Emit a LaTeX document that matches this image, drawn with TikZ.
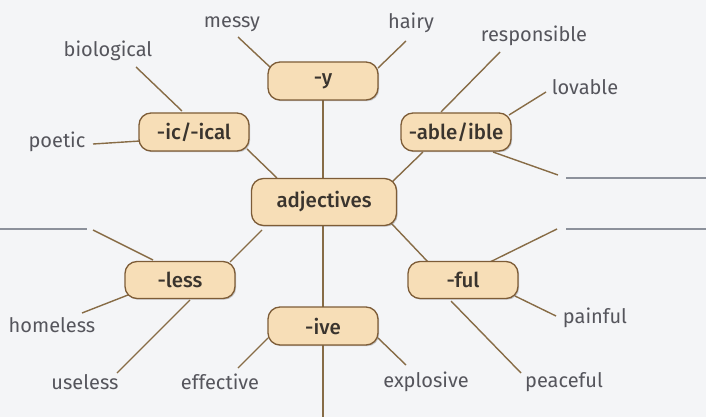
\documentclass[tikz,border=0pt]{standalone}
\usepackage{fontspec}
\setmainfont{Fira Sans}
\newfontfamily\boxfont{Fira Sans Medium}
\usetikzlibrary{calc,backgrounds,shadows}
\definecolor{boxfill}{RGB}{247,222,183}
\definecolor{boxline}{RGB}{125,92,55}
\definecolor{conn}{RGB}{135,108,70}
\definecolor{lbl}{RGB}{85,85,92}
\definecolor{boxtxt}{RGB}{58,52,46}
\definecolor{blank}{RGB}{140,145,155}
\definecolor{paper}{RGB}{244,245,247}
\begin{document}
\begin{tikzpicture}[x=1pt,y=-1pt,
  suffix/.style={draw=boxline, line width=1.3pt, fill=boxfill, rounded corners=12pt,
    minimum width=110pt, minimum height=38pt, inner sep=0pt,
    font=\boxfont\fontsize{20.5}{24}\selectfont, text=boxtxt,
    drop shadow={shadow xshift=1.2pt, shadow yshift=-1.2pt, opacity=0.35, fill=black!60}},
  word/.style={font=\fontsize{20}{24}\selectfont, text=lbl, inner sep=0pt},
  link/.style={draw=conn, line width=1.4pt},
  answer/.style={draw=blank, line width=1.2pt}]
\useasboundingbox (0,0) rectangle (706,417);

% boxes
\node[suffix, minimum width=145pt, minimum height=47pt] (adj) at (324,202) {adjectives};
\node[suffix] (y)    at (323,81)  {-y};
\node[suffix] (ic)   at (194,132) {-ic/-ical};
\node[suffix] (able) at (456,132) {-able/ible};
\node[suffix, minimum height=37pt] (less) at (180,280) {-less};
\node[suffix, minimum height=37pt] (ful)  at (463,280) {-ful};
\node[suffix] (ive)  at (323,326) {-ive};

% labels
\node[word] (messy)  at (232,24)  {messy};
\node[word] (hairy)  at (411,23)  {hairy};
\node[word] (bio)    at (108,51)  {biological};
\node[word] (resp)   at (534,36)  {responsible};
\node[word] (lov)    at (585,87)  {lovable};
\node[word] (poetic) at (57,142)  {poetic};
\node[word] (home)   at (52,325)  {homeless};
\node[word] (use)    at (85,382)  {useless};
\node[word] (eff)    at (220,382) {effective};
\node[word] (expl)   at (426,382) {explosive};
\node[word] (pain)   at (595,318) {painful};
\node[word] (peace)  at (564,382) {peaceful};

% free ends
\coordinate (messyE) at (238,37);
\coordinate (hairyE) at (406,41);
\coordinate (bioE)   at (136,67);
\coordinate (poetE)  at (93,144);
\coordinate (respE)  at (500,52);
\coordinate (lovE)   at (546,92);
\coordinate (ableE)  at (558,175);
\coordinate (ansA1)  at (566,178);
\coordinate (ansA2)  at (706,178);
\coordinate (lessE)  at (93,230);
\coordinate (ansL1)  at (0,229);
\coordinate (ansL2)  at (87,229);
\coordinate (homeE)  at (82,313);
\coordinate (useE)   at (117,373);
\coordinate (effE)   at (238,368);
\coordinate (explE)  at (406,365);
\coordinate (fulE)   at (557,229);
\coordinate (ansF1)  at (566,229);
\coordinate (ansF2)  at (706,229);
\coordinate (painE)  at (556,316);
\coordinate (peaceE) at (521,373);
\coordinate (bottomE) at (323,417);

\begin{scope}[on background layer]
\fill[paper] (0,0) rectangle (706,417);
% spine
\draw[link] (y.center) -- (y.center |- adj.center);
\draw[link] (ive.center |- adj.center) -- (ive.center);
\draw[link] (ive.center) -- (bottomE);
% suffix to adjectives
\draw[link] ($(ic.center)+(53,17)$) -- ($(adj.center)+(-47,-24)$);
\draw[link] ($(able.center)+(-33,20)$) -- ($(adj.center)+(67,-19)$);
\draw[link] ($(less.center)+(50,-18)$) -- ($(adj.center)+(-62,28)$);
\draw[link] ($(ful.center)+(-35,-18)$) -- ($(adj.center)+(67,21)$);
% -y
\draw[link] ($(y.center)+(-52,-13)$) -- (messyE);
\draw[link] ($(y.center)+(55,-13)$) -- (hairyE);
% -ic/-ical
\draw[link] ($(ic.center)+(-12,-21)$) -- (bioE);
\draw[link] ($(ic.center)+(-54,9)$) -- (poetE);
% -able/ible
\draw[link] ($(able.center)+(-15,-20)$) -- (respE);
\draw[link] ($(able.center)+(53,-17)$) -- (lovE);
\draw[link] ($(able.center)+(37,20)$) -- (ableE);
\draw[answer] (ansA1) -- (ansA2);
% -less
\draw[link] ($(less.center)+(-27,-20)$) -- (lessE);
\draw[answer] (ansL1) -- (ansL2);
\draw[link] ($(less.center)+(-52,15)$) -- (homeE);
\draw[link] ($(less.center)+(10,20)$) -- (useE);
% -ive
\draw[link] ($(ive.center)+(-55,12)$) -- (effE);
\draw[link] ($(ive.center)+(55,12)$) -- (explE);
% -ful
\draw[link] ($(ful.center)+(27,-18)$) -- (fulE);
\draw[answer] (ansF1) -- (ansF2);
\draw[link] ($(ful.center)+(52,16)$) -- (painE);
\draw[link] ($(ful.center)+(-12,21)$) -- (peaceE);
\end{scope}
\end{tikzpicture}
\end{document}
